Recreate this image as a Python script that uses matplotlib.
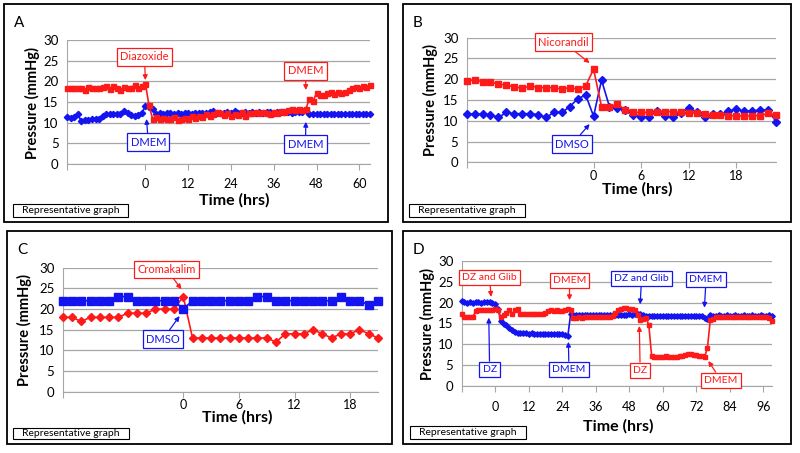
import numpy as np
import matplotlib
matplotlib.use("Agg")
import matplotlib.pyplot as plt
from matplotlib.patches import Rectangle

plt.rcParams['font.family'] = ['Lato', 'DejaVu Sans']

RED = '#ff1a1a'
BLUE = '#1414f0'
GRID = '#a6a6a6'

# ---- panel A : diazoxide (hourly readings, -22 h to 63 h)
a_start, a_end = -22, 63
a_red = [18.5, 18.3, 18.4, 18.3, 18.5, 17.8, 18.6, 18.4, 18.5, 18.3, 18.7, 18.9, 18.2, 18.8, 18.5, 18.0, 18.6, 18.3, 18.5, 19.1, 18.4, 18.8,
         19.4, 14.2,
         11.0, 11.3, 10.9, 11.2, 11.0, 10.8, 11.3, 10.6, 11.0,
         11.2, 10.9, 11.5, 11.1, 11.6, 11.3, 12.0, 11.5, 12.2, 12.6,
         12.4, 11.8, 12.3, 11.6, 12.2, 11.9, 12.5, 11.5, 12.3, 12.4,
         12.6, 12.3, 12.5, 12.4, 12.2, 12.6, 12.4, 12.8, 12.5, 13.0,
         13.2, 13.1, 13.4, 13.0, 13.3,
         15.8, 15.2, 17.1, 16.6, 16.8,
         17.2, 17.4, 17.0, 17.3, 17.1, 17.5, 17.8, 18.3, 18.6, 18.5, 18.9, 18.7, 19.1]
a_blue = [11.3, 11.2, 11.4, 12.0, 10.4, 10.6, 10.6, 10.8, 10.8, 11.0, 11.5, 12.0, 12.1, 12.1, 12.0, 12.2, 12.9, 12.4, 11.9, 11.6, 11.8, 12.3,
          14.1, 13.8, 13.4,
          12.2, 12.3, 12.2, 12.3, 12.3, 12.2, 12.3, 12.2, 12.3, 12.3,
          12.2, 12.3, 12.4, 12.3, 12.3, 12.6, 12.9, 12.4, 12.3, 12.4,
          12.5, 12.4, 12.8, 12.4, 12.3, 12.5, 12.4, 12.5, 12.4, 12.5,
          12.4, 12.5, 12.5, 12.4, 12.6, 12.5, 12.5, 12.6, 12.4, 12.5,
          12.6, 12.5,
          13.0,
          12.1, 12.0, 12.1, 12.0, 12.0, 12.1, 12.0, 12.0, 12.1, 12.1, 12.0, 12.1, 12.1, 12.0, 12.1, 12.1, 12.1, 12.0]
a_ticks = [0, 12, 24, 36, 48, 60]

# ---- panel B : nicorandil (-16 h to 23 h)
b_start, b_end = -16, 23
b_red = [19.6, 19.8, 19.4, 19.4, 18.8, 18.6, 18.2, 17.8, 18.4, 18.0, 18.0, 18.0, 17.6, 18.0, 17.6, 18.4,
         22.4, 13.4, 13.4, 14.0, 12.6, 12.0, 12.0, 12.0, 12.0, 12.2, 12.2, 12.0, 11.9, 11.9, 11.6, 11.4,
         11.5, 11.2, 11.2, 11.1, 11.2, 11.2, 11.8, 11.4]
b_blue = [11.6, 11.6, 11.6, 11.5, 10.8, 12.0, 11.7, 11.7, 11.7, 11.5, 10.8, 12.0, 12.0, 13.4, 15.3, 16.2,
          11.1, 19.8, 13.4, 13.0, 12.6, 11.4, 10.8, 11.0, 12.3, 11.1, 10.8, 11.8, 13.0, 12.2, 10.8, 11.6,
          11.6, 12.3, 12.8, 12.3, 12.3, 12.6, 12.6, 9.8]
b_ticks = [0, 6, 12, 18]

# ---- panel C : cromakalim (-13 h to 21 h)
c_start, c_end = -13, 21
c_red = [18, 18, 17, 18, 18, 18, 18, 19, 19, 19, 20, 20, 20, 23,
         13, 13, 13, 13, 13, 13, 13, 13, 13, 12, 14, 14, 14, 15, 14, 13, 14, 14, 15, 14, 13]
c_blue = [22, 22, 22, 22, 22, 22, 23, 23, 22, 22, 22, 22, 22, 20,
          22, 22, 22, 22, 22, 22, 22, 23, 23, 22, 22, 22, 22, 22, 22, 22, 23, 22, 22, 21, 22]
c_ticks = [0, 6, 12, 18]

# ---- panel D : DZ / DZ and Glib (-12 h to 99 h)
d_start, d_end = -12, 99
d_red = [17.4,
         16.6, 16.5, 16.6, 16.5,
         18.0, 18.2, 18.3, 18.2, 18.3, 18.2, 18.3, 18.4,
         18.3, 16.6, 17.0, 17.6, 18.3, 17.2, 18.2, 18.4, 17.4,
         17.3, 17.4, 17.3, 17.4, 17.3, 17.4, 17.3, 17.4, 17.5,
         18.0, 18.2, 18.1, 18.2, 18.0, 18.1, 18.3, 18.4,
         18.2, 16.3,
         16.4, 16.5, 16.4, 16.5, 16.5, 16.6, 16.5, 16.6, 16.5, 16.6, 16.6, 16.5, 16.6, 16.7,
         17.5, 18.2,
         18.6, 18.7, 18.7, 18.6, 18.5,
         18.2, 17.0, 15.9, 16.2, 16.4, 14.6,
         7.3, 7.0, 6.9, 7.0, 7.0, 7.1, 7.0, 7.0, 6.9, 7.0,
         7.2, 7.3, 7.5, 7.6, 7.6, 7.5, 7.4, 7.3, 7.2,
         7.0, 9.2, 15.8, 16.2,
         16.5, 16.5, 16.6, 16.5, 16.6, 16.6, 16.5, 16.6, 16.6, 16.6, 16.5, 16.6, 16.6, 16.5, 16.6, 16.6, 16.5, 16.6, 16.5, 16.4,
         15.6]
d_blue = [20.5,
          20.1, 20.0, 20.1, 20.0, 20.1, 20.1, 20.0, 20.1, 20.2, 20.1, 20.0,
          19.6,
          18.6, 15.6, 15.0, 14.6, 14.0, 13.4, 13.0, 12.8,
          12.8, 12.7, 12.7, 12.6, 12.7, 12.6, 12.6, 12.5, 12.6, 12.5, 12.4, 12.5, 12.4, 12.4, 12.5, 12.4, 12.3,
          12.0, 17.2,
          17.0, 17.1, 17.0, 17.0, 17.1, 17.0, 17.0, 17.1, 17.0, 17.0, 17.1, 17.0, 17.0, 17.1, 17.0, 17.0, 17.1,
          17.1, 17.0, 17.0, 17.2, 17.1, 17.2, 17.3, 17.4, 17.0,
          16.8, 16.8, 16.9, 16.8, 16.8, 16.8, 16.9, 16.8, 16.8, 16.8, 16.9, 16.8, 16.8, 16.8, 16.9, 16.8, 16.8, 16.8, 16.9, 16.8, 16.8,
          16.4, 16.2,
          17.0, 16.9, 16.9, 17.0, 16.9, 16.9, 17.0, 16.9, 16.9, 17.0, 16.9, 16.9, 17.0, 16.9, 16.9, 17.0, 16.9, 16.9, 17.0, 16.9, 16.9, 17.0, 16.8]
d_ticks = [0, 12, 24, 36, 48, 60, 72, 84, 96]

W, H = 800, 453
fig = plt.figure(figsize=(8, 4.53), dpi=100)


def rect(l, t, r, b):
    # pixel box -> figure fraction
    return [l / W, 1 - b / H, (r - l) / W, (b - t) / H]


def setup(ax, start, end, ticks, xpad):
    ax.set_xlim(start, end)
    ax.set_ylim(0, 30)
    ax.set_yticks(range(0, 31, 5))
    ax.set_xticks([start] + ticks)
    ax.set_xticklabels([''] + [str(t) for t in ticks])
    ax.grid(axis='y', color=GRID, lw=0.9)
    ax.set_axisbelow(True)
    ax.spines['top'].set_visible(False)
    ax.spines['right'].set_visible(False)
    ax.spines['left'].set_color(GRID)
    ax.spines['bottom'].set_color(GRID)
    ax.tick_params(axis='x', color=GRID, length=4, pad=xpad, labelsize=9)
    ax.tick_params(axis='y', color=GRID, length=0, pad=6, labelsize=9.5)


def series(ax, start, vals, color, marker, ms):
    t = np.arange(start, start + len(vals))
    ax.plot(t, vals, color=color, lw=1.2, marker=marker, ms=ms, mec=color, mfc=color, clip_on=False, zorder=3)


def note(ax, text, color, xy, xytext, fs=8):
    ax.annotate(text, xy=xy, xytext=xytext, color=color, fontsize=fs, ha='center', va='center',
                annotation_clip=False, zorder=5,
                bbox=dict(boxstyle='square,pad=0.3', fc='white', ec=color, lw=0.9),
                arrowprops=dict(arrowstyle='-|>', color=color, lw=0.9, mutation_scale=7, shrinkA=0, shrinkB=0))


def frame(letter, l, t, r, b, xlabel_pos, ylabel_pos, rep_box):
    fig.add_artist(Rectangle((l / W, 1 - b / H), (r - l) / W, (b - t) / H, transform=fig.transFigure,
                             fill=False, ec='black', lw=1.3))
    fig.text((l + 15) / W, 1 - (t + 19) / H, letter, fontsize=11, ha='center', va='center')
    fig.text(xlabel_pos[0] / W, 1 - xlabel_pos[1] / H, 'Time (hrs)', fontsize=11.5, fontweight='bold',
             ha='center', va='center')
    fig.text(ylabel_pos[0] / W, 1 - ylabel_pos[1] / H, 'Pressure (mmHg)', fontsize=10.5, fontweight='bold',
             rotation=90, ha='center', va='center')
    rl, rt, rr, rb = rep_box
    fig.add_artist(Rectangle((rl / W, 1 - rb / H), (rr - rl) / W, (rb - rt) / H, transform=fig.transFigure,
                             fill=False, ec='black', lw=0.8))
    fig.text((rl + rr) / 2 / W, 1 - (rt + rb) / 2 / H, 'Representative graph', fontsize=7.5,
             ha='center', va='center')


# A
axA = fig.add_axes(rect(67, 40, 370, 164))
setup(axA, a_start, a_end, a_ticks, 6)
series(axA, a_start, a_blue, BLUE, 'D', 3.2)
series(axA, a_start, a_red, RED, 's', 3.6)
note(axA, 'Diazoxide', RED, (0, 20.3), (-0.3, 25.9))
note(axA, 'DMEM', RED, (45, 17.9), (44.9, 22.5))
note(axA, 'DMEM', BLUE, (0.3, 10.9), (0.8, 5.3))
note(axA, 'DMEM', BLUE, (45, 10.2), (44.9, 4.8))
frame('A', 4, 4, 388, 222, (234, 200), (32, 103), (13, 204, 128, 217))

# B
axB = fig.add_axes(rect(466.7, 37.7, 776, 162.3))
setup(axB, b_start, b_end, b_ticks, 1.5)
series(axB, b_start, b_blue, BLUE, 'D', 4.5)
series(axB, b_start, b_red, RED, 's', 5.0)
note(axB, 'Nicorandil', RED, (-0.5, 23.9), (-3.8, 28.9))
note(axB, 'DMSO', BLUE, (-0.5, 9.2), (-2.7, 4.4))
frame('B', 403, 4, 791, 222, (637, 189), (430, 100), (409, 204, 525, 217))

# C
axC = fig.add_axes(rect(62.7, 267.7, 378, 391.7))
setup(axC, c_start, c_end, c_ticks, 1.5)
series(axC, c_start, c_red, RED, 'D', 4.2)
series(axC, c_start, c_blue, BLUE, 's', 5.2)
note(axC, 'Cromakalim', RED, (-0.2, 24.8), (-1.8, 29.6))
note(axC, 'DMSO', BLUE, (-0.4, 18.3), (-2.2, 12.7))
frame('C', 7, 231, 392, 444, (237, 417.5), (24, 330), (13, 428, 129, 439))

# D
axD = fig.add_axes(rect(461.7, 261, 771.7, 386))
setup(axD, d_start, d_end, d_ticks, 7)
series(axD, d_start, d_blue, BLUE, 'D', 2.8)
series(axD, d_start, d_red, RED, 's', 3.0)
note(axD, 'DZ and Glib', RED, (-1.5, 21.4), (-2.0, 26.0), 7.5)
note(axD, 'DMEM', RED, (26.6, 20.6), (26.6, 25.4), 7.5)
note(axD, 'DZ and Glib', BLUE, (51.9, 19.6), (52.4, 25.8), 7.5)
note(axD, 'DMEM', BLUE, (74.9, 18.8), (75.5, 25.6), 7.5)
note(axD, 'DZ', BLUE, (-2.3, 16.4), (-2.0, 4.0), 7.5)
note(axD, 'DMEM', BLUE, (26.2, 10.6), (26.4, 4.0), 7.5)
note(axD, 'DZ', RED, (51.6, 14.4), (51.9, 3.8), 7.5)
note(axD, 'DMEM', RED, (76.3, 6.0), (80.9, 1.4), 7.5)
frame('D', 403, 231, 791, 444, (618, 426), (427, 324), (410, 426, 526, 439))

fig.savefig('out.png', dpi=100)
